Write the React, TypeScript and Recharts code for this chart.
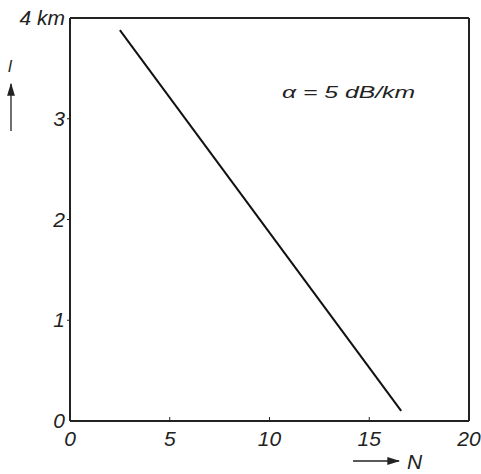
import { LineChart, Line, XAxis, YAxis, ReferenceLine } from "recharts";

// fibre length l (km) vs. number of splices N at 5 dB/km
const N_VALUES = [2.5, 16.6];
const L_VALUES = [3.88, 0.1];
const X_TICKS = [0, 5, 10, 15, 20];
const Y_TICKS = [0, 1, 2, 3, 4];
const Y_LABELS = ["0", "1", "2", "3", "4 km"];

const data = N_VALUES.map((n, i) => ({ n, l: L_VALUES[i] }));

const FONT = "'Liberation Sans', Arial, sans-serif";

function XTick(props: any) {
  const { x, y, payload } = props;
  return (
    <g>
      {payload.value > 0 && payload.value < 20 && (
        <line x1={x} y1={y} x2={x} y2={y - 4} stroke="#222" strokeWidth={1} />
      )}
      <text x={x} y={y + 25} textAnchor="middle" fontSize={21} fontStyle="italic" fontFamily={FONT} fill="#222">
        {payload.value}
      </text>
    </g>
  );
}

function YTick(props: any) {
  const { x, y, payload } = props;
  const idx = Y_TICKS.indexOf(payload.value);
  return (
    <g>
      {payload.value > 0 && payload.value < 4 && (
        <line x1={x} y1={y} x2={x - 3} y2={y} stroke="#222" strokeWidth={1} />
      )}
      <text x={x - 5} y={y + 7} textAnchor="end" fontSize={21} fontStyle="italic" fontFamily={FONT} fill="#222">
        {Y_LABELS[idx]}
      </text>
    </g>
  );
}

export default function App() {
  return (
    <div style={{ position: "absolute", left: 0, top: 0, width: 481, height: 474, background: "#fff" }}>
      <LineChart width={481} height={474} data={data} margin={{ top: 18, right: 12, bottom: 23, left: 10 }}>
        <XAxis
          dataKey="n"
          type="number"
          domain={[0, 20]}
          ticks={X_TICKS}
          tick={<XTick />}
          tickLine={false}
          tickSize={0}
          tickMargin={0}
          height={30}
          axisLine={{ stroke: "#222", strokeWidth: 2 }}
        />
        <YAxis
          dataKey="l"
          type="number"
          domain={[0, 4]}
          ticks={Y_TICKS}
          tick={<YTick />}
          tickLine={false}
          tickSize={0}
          tickMargin={0}
          width={60}
          axisLine={{ stroke: "#222", strokeWidth: 2 }}
        />
        <ReferenceLine y={4} stroke="#222" strokeWidth={2} />
        <ReferenceLine x={20} stroke="#222" strokeWidth={2} />
        <Line
          dataKey="l"
          stroke="#111"
          strokeWidth={2}
          dot={false}
          isAnimationActive={false}
        />
      </LineChart>
      <svg width={481} height={474} style={{ position: "absolute", left: 0, top: 0, pointerEvents: "none" }}>
        <defs>
          <marker id="head" markerWidth="10" markerHeight="6" refX="9" refY="3" orient="auto">
            <path d="M0,0 L10,3 L0,6 Z" fill="#222" />
          </marker>
        </defs>
        {/* y-axis name with upward arrow */}
        <text x={10} y={72} textAnchor="middle" fontSize={17} fontStyle="italic" fontFamily={FONT} fill="#222">
          l
        </text>
        <line x1={11} y1={131} x2={11} y2={84} stroke="#222" strokeWidth={1.3} markerEnd="url(#head)" />
        {/* x-axis name with right arrow */}
        <line x1={353} y1={461} x2={399} y2={461} stroke="#222" strokeWidth={1.3} markerEnd="url(#head)" />
        <text x={407} y={469} fontSize={21} fontStyle="italic" fontFamily={FONT} fill="#222">
          N
        </text>
        <text
          x={282}
          y={98}
          fontSize={17}
          fontStyle="italic"
          fontFamily={FONT}
          fill="#222"
          textLength={133}
          lengthAdjust="spacingAndGlyphs"
        >
          α = 5 dB/km
        </text>
      </svg>
    </div>
  );
}
